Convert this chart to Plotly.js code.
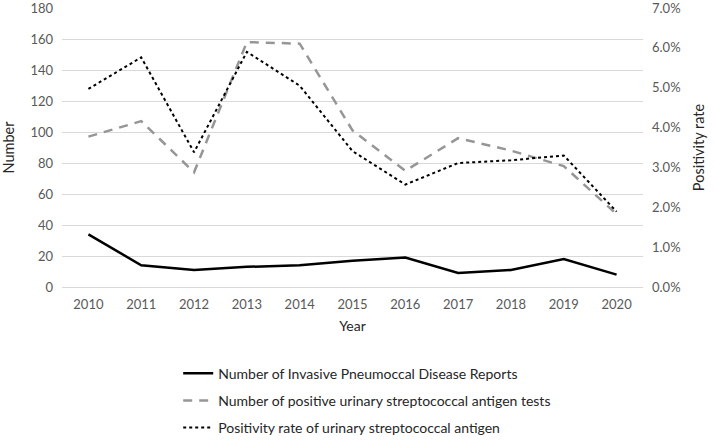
<!DOCTYPE html>
<html>
<head>
<meta charset="utf-8">
<script src="https://cdn.plot.ly/plotly-3.0.1.min.js"></script>
<style>
  body { margin: 0; background: #fff; }
  #chart { width: 714px; height: 440px; }
</style>
</head>
<body>
<div id="chart"></div>
<script>
// values
var years = ['2010', '2011', '2012', '2013', '2014', '2015', '2016', '2017', '2018', '2019', '2020'];
var ipdReports = [34, 14, 11, 13, 14, 17, 19, 9, 11, 18, 8];
var positiveTests = [97, 107, 74, 158, 157, 101, 75, 96, 88, 78, 47];
var positivityRate = [0.0497, 0.0576, 0.0338, 0.059, 0.0505, 0.0341, 0.0257, 0.0311, 0.0318, 0.033, 0.0189];

var names = [
    'Number of Invasive Pneumoccal Disease Reports',
    'Number of positive urinary streptococcal antigen tests',
    'Positivity rate of urinary streptococcal antigen'
];

var trace1 = {
    x: years,
    y: ipdReports,
    name: names[0],
    legendgroup: 'a',
    mode: 'lines',
    line: {color: '#000000', width: 2.5},
    type: 'scatter'
};

var trace2 = {
    x: years,
    y: positiveTests,
    name: names[1],
    legendgroup: 'b',
    mode: 'lines',
    line: {color: '#969696', width: 2.5, dash: '9px,7px'},
    type: 'scatter'
};

var trace3 = {
    x: years,
    y: positivityRate,
    name: names[2],
    legendgroup: 'c',
    yaxis: 'y2',
    mode: 'lines',
    line: {color: '#000000', width: 2, dash: 'dot'},
    type: 'scatter'
};

var data = [trace1, trace2, trace3];

var tickFont = {family: 'Lato, sans-serif', size: 13, color: '#595959'};

var layout = {
    width: 714,
    height: 440,
    margin: {l: 62, r: 71, t: 8, b: 153, autoexpand: false},
    paper_bgcolor: '#ffffff',
    plot_bgcolor: '#ffffff',
    font: {family: 'Lato, sans-serif', color: '#404040'},
    showlegend: true,
    legend: {
        orientation: 'v',
        x: 0.2,
        xanchor: 'left',
        y: -0.253,
        yanchor: 'top',
        font: {family: 'Lato, sans-serif', size: 14, color: '#262626'},
        tracegroupgap: 6,
        itemwidth: 30
    },
    xaxis: {
        type: 'category',
        range: [-0.5, 10.5],
        automargin: false,
        showgrid: false,
        showline: false,
        ticks: '',
        tickfont: tickFont,
        ticklabelstandoff: 8,
        title: {text: 'Year', font: {family: 'Lato, sans-serif', size: 14, color: '#262626'}, standoff: 10}
    },
    yaxis: {
        range: [0, 180],
        dtick: 20,
        automargin: false,
        ticklabeloverflow: 'allow',
        showgrid: true,
        gridcolor: '#d9d9d9',
        gridwidth: 1,
        zeroline: true,
        zerolinecolor: '#d9d9d9',
        showline: false,
        ticks: '',
        tickfont: tickFont,
        ticklabelstandoff: 8,
        title: {text: 'Number', font: {family: 'Lato, sans-serif', size: 14.5, color: '#262626'}, standoff: 14}
    },
    yaxis2: {
        overlaying: 'y',
        side: 'right',
        range: [0, 0.07],
        dtick: 0.01,
        tickformat: '.1%',
        automargin: false,
        ticklabeloverflow: 'allow',
        showgrid: false,
        zeroline: false,
        showline: false,
        ticks: '',
        tickfont: tickFont,
        ticklabelstandoff: 8,
        title: {text: 'Positivity rate', font: {family: 'Lato, sans-serif', size: 14.5, color: '#262626'}, standoff: 14}
    }
};

Plotly.newPlot('chart', data, layout, {displayModeBar: false, staticPlot: true});
</script>
</body>
</html>
